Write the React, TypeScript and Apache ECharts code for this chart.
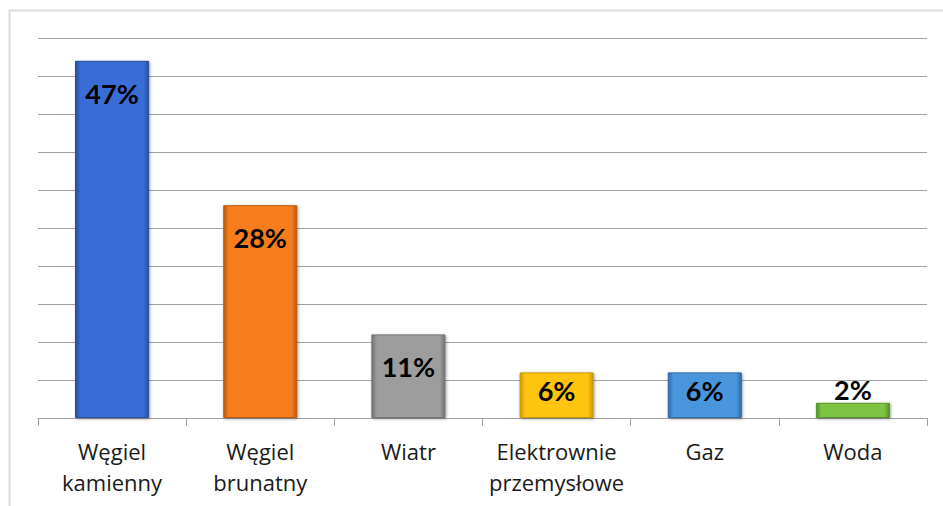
import React, { useEffect, useRef } from "react";
import * as echarts from "echarts";

const categories = ["Węgiel\nkamienny", "Węgiel\nbrunatny", "Wiatr", "Elektrownie\nprzemysłowe", "Gaz", "Woda"];
const values = [47, 28, 11, 6, 6, 2];
const yMin = 0;
const yMax = 50;
const yInterval = 5;

const palette = [
  { main: "#3a6dd6", light: "#5b8cea", dark: "#264f9e" },
  { main: "#f77d1c", light: "#ff9a45", dark: "#b95a0e" },
  { main: "#9d9d9d", light: "#bdbdbd", dark: "#727272" },
  { main: "#ffc408", light: "#ffd95a", dark: "#c99a00" },
  { main: "#4a96dd", light: "#78b6ee", dark: "#2c6aa8" },
  { main: "#7cc442", light: "#a3df70", dark: "#559028" },
];

const FONT = "Lato, 'Open Sans', sans-serif";
const CAT_FONT = "'Open Sans', sans-serif";

export default function App() {
  const ref = useRef<HTMLDivElement>(null);

  useEffect(() => {
    document.body.style.margin = "0";
    const chart = echarts.init(ref.current!, null, { renderer: "svg" });

    const data = values.map((v, i) => {
      const c = palette[i];
      let label: any;
      if (v >= 10) label = { position: "insideTop", distance: 19 };
      else if (v >= 5) label = { position: "insideTop", distance: 5 };
      else label = { position: "top", distance: 0 };
      return {
        value: v,
        itemStyle: {
          color: new echarts.graphic.LinearGradient(0, 0, 1, 0, [
            { offset: 0, color: c.dark },
            { offset: 0.07, color: c.main },
            { offset: 0.93, color: c.main },
            { offset: 1, color: c.dark },
          ]),
          borderColor: c.dark,
          borderWidth: 1,
          shadowColor: "rgba(0,0,0,0.35)",
          shadowBlur: 3,
          shadowOffsetX: 1,
          shadowOffsetY: 1,
        },
        label,
      };
    });

    chart.setOption({
      animation: false,
      backgroundColor: "#ffffff",
      graphic: [
        {
          type: "rect",
          shape: { x: 9.5, y: 10.5, width: 960, height: 520 },
          style: { fill: "none", stroke: "#dcdcdc", lineWidth: 2 },
          silent: true,
          z: -1,
        },
      ],
      grid: { left: 38, right: 16, top: 38, bottom: 88, containLabel: false },
      xAxis: {
        type: "category",
        data: categories,
        boundaryGap: true,
        axisLine: { show: true, lineStyle: { color: "#a0a0a0", width: 1 } },
        axisTick: { show: true, alignWithLabel: false, length: 8, lineStyle: { color: "#a0a0a0" } },
        axisLabel: {
          interval: 0,
          margin: 17,
          color: "#1a1a1a",
          fontSize: 22,
          lineHeight: 31,
          fontFamily: CAT_FONT,
        },
      },
      yAxis: {
        type: "value",
        min: yMin,
        max: yMax,
        interval: yInterval,
        axisLine: { show: false },
        axisTick: { show: false },
        axisLabel: { show: false },
        splitLine: { show: true, lineStyle: { color: "#a3a3a3", width: 1 } },
      },
      series: [
        {
          type: "bar",
          data,
          barWidth: "50%",
          label: {
            show: true,
            formatter: "{c}%",
            color: "#000000",
            fontSize: 27,
            fontWeight: "bold",
            fontFamily: FONT,
          },
        },
      ],
    });

    return () => chart.dispose();
  }, []);

  return <div ref={ref} style={{ width: 943, height: 506 }} />;
}
